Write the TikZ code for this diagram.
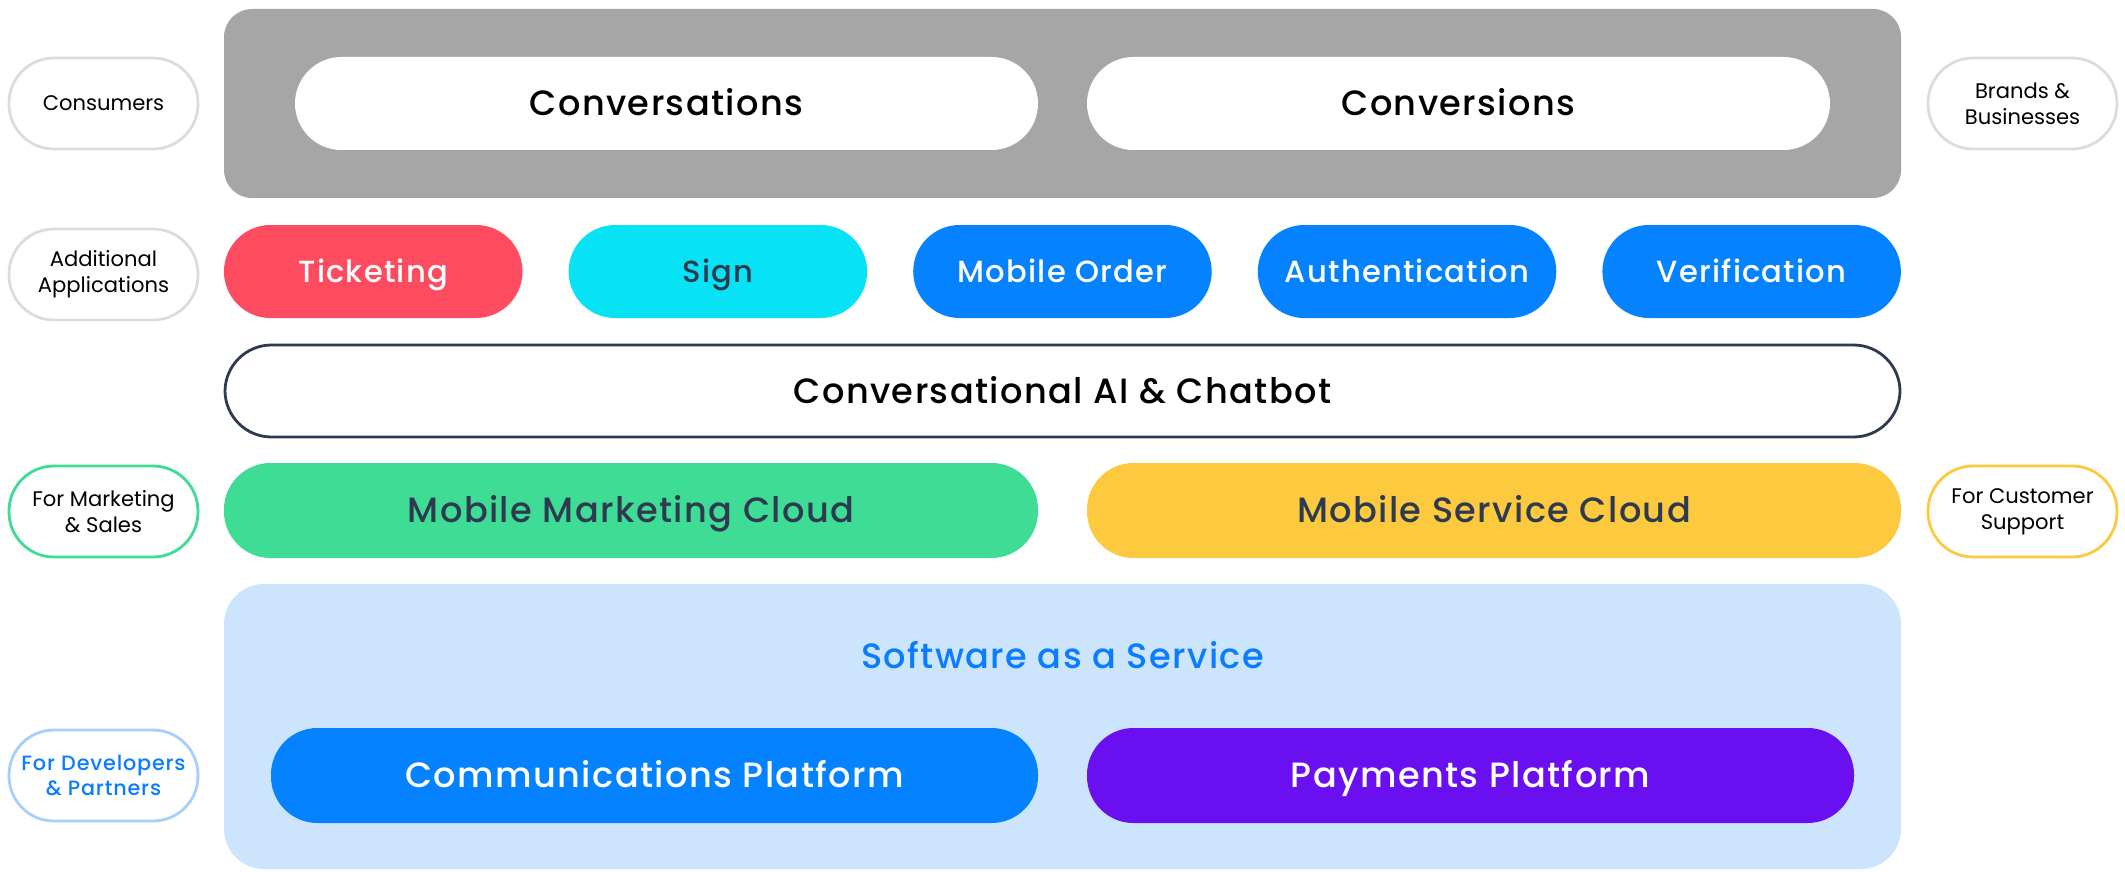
\documentclass[tikz,border=0pt]{standalone}
\usepackage{fontspec}
\setmainfont{Poppins}
\newfontfamily\midfont{Poppins Medium}[LetterSpace=4]
\usetikzlibrary{positioning}
\definecolor{panelgray}{HTML}{A6A6A6}
\definecolor{tickred}{HTML}{FF4B5F}
\definecolor{signcyan}{HTML}{07E3F5}
\definecolor{appblue}{HTML}{0582FF}
\definecolor{mktgreen}{HTML}{3FDC96}
\definecolor{svcyellow}{HTML}{FDC93F}
\definecolor{saasblue}{HTML}{CCE5FC}
\definecolor{payviolet}{HTML}{6A0FF0}
\definecolor{slate}{HTML}{2E3A4F}
\definecolor{edgegray}{HTML}{DCDCDC}
\definecolor{devedge}{HTML}{A5D0FA}
\definecolor{devtext}{HTML}{0A7CFF}
\begin{document}
\begin{tikzpicture}[line join=round,
	pill/.style={rounded corners=0.465cm,minimum height=0.93cm,inner sep=0pt,text height=7pt,text depth=0pt,font=\midfont\fontsize{10}{12}\selectfont},
	app/.style={pill,text height=6.1pt,font=\midfont\fontsize{8.7}{10}\selectfont},
	side/.style={draw=#1,line width=0.8pt,rounded corners=0.45cm,minimum width=1.89cm,minimum height=0.91cm,inner sep=0pt,align=center,font=\fontsize{6}{7.3}\selectfont}]
	\useasboundingbox (0,0) rectangle (21.25,-8.72);
	% top panel
	\node[fill=panelgray,rounded corners=0.28cm,minimum width=16.77cm,minimum height=1.89cm] (panel) at (10.625,-1.035) {};
	\node[pill,fill=white,minimum width=7.43cm] (conv) at (6.665,-1.035) {Conversations};
	\node[pill,fill=white,minimum width=7.43cm] (convr) at (14.585,-1.035) {Conversions};
	% applications row
	\foreach \name/\txt/\col/\tcol [count=\i from 0] in {tick/Ticketing/tickred/white,sign/Sign/signcyan/slate,order/Mobile Order/appblue/white,auth/Authentication/appblue/white,verif/Verification/appblue/white}
		\node[app,fill=\col,text=\tcol,minimum width=2.985cm] (\name) at ({3.7325+\i*3.446},-2.715) {\txt};
	\node[pill,draw=slate,line width=0.8pt,minimum width=16.75cm,minimum height=0.92cm] (bot) at (10.625,-3.91) {Conversational AI \& Chatbot};
	% clouds
	\node[pill,fill=mktgreen,text=slate,minimum width=8.14cm,minimum height=0.95cm] (mkt) at (6.31,-5.105) {Mobile Marketing Cloud};
	\node[pill,fill=svcyellow,text=slate,minimum width=8.14cm,minimum height=0.95cm] (svc) at (14.94,-5.105) {Mobile Service Cloud};
	% platforms
	\node[fill=saasblue,rounded corners=0.4cm,minimum width=16.77cm,minimum height=2.85cm] (saas) at (10.625,-7.265) {};
	\node[font=\midfont\fontsize{10}{12}\selectfont,text=devtext,inner sep=0pt,text height=7pt,text depth=0pt] (saastitle) at (10.625,-6.56) {Software as a Service};
	\node[pill,fill=appblue,text=white,minimum width=7.67cm,minimum height=0.95cm] (comm) at (6.545,-7.755) {Communications Platform};
	\node[pill,fill=payviolet,text=white,minimum width=7.67cm,minimum height=0.95cm] (pay) at (14.705,-7.755) {Payments Platform};
	% side labels
	\node[side=edgegray] (consumers) at (1.035,-1.035) {Consumers};
	\node[side=edgegray] (apps) at (1.035,-2.745) {Additional\\Applications};
	\node[side=mktgreen] (sales) at (1.035,-5.115) {For Marketing\\\& Sales};
	\node[side=devedge,text=devtext,font=\midfont\fontsize{5.9}{7.3}\selectfont] (devs) at (1.035,-7.755) {For Developers\\\& Partners};
	\node[side=edgegray] (brands) at (20.225,-1.035) {Brands \&\\Businesses};
	\node[side=svcyellow] (support) at (20.225,-5.115) {For Customer\\Support};
\end{tikzpicture}
\end{document}
